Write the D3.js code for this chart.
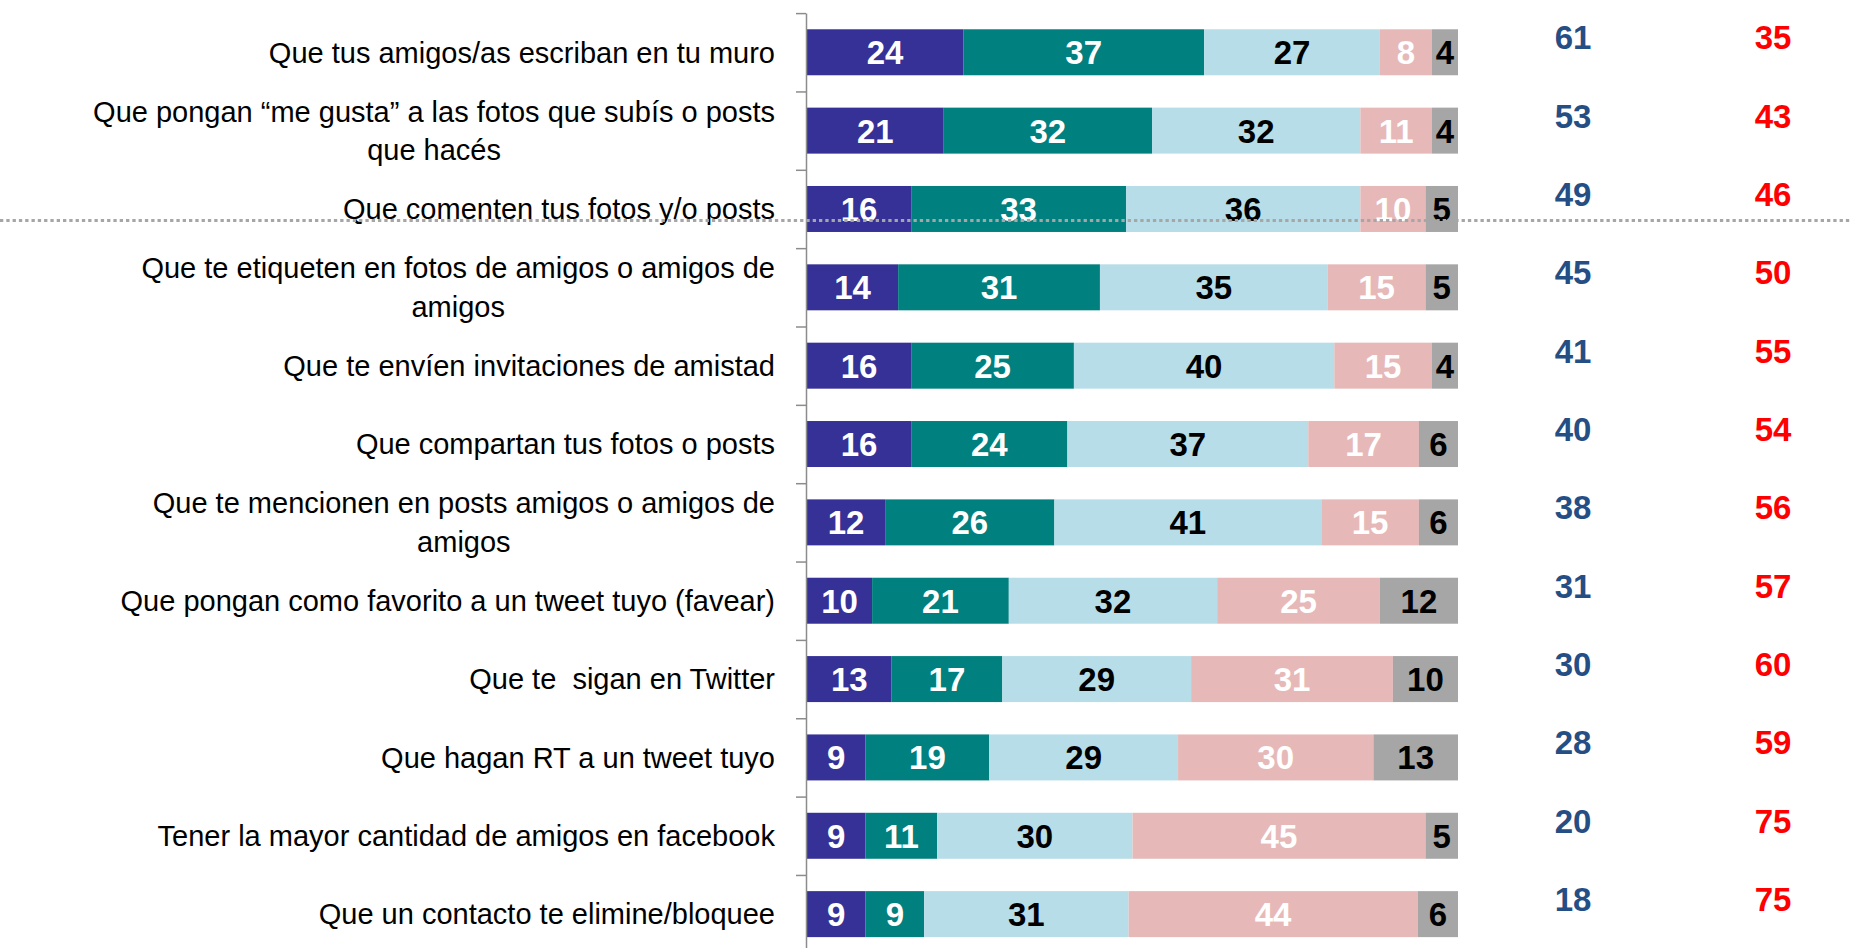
<!DOCTYPE html>
<meta charset="utf-8">
<script src="https://cdn.jsdelivr.net/npm/d3@7"></script>
<style>
body { margin: 0; background: #fff; }
text.cat { font: 29px "Liberation Sans", Arial, sans-serif; fill: #000; white-space: pre; }
text.val { font: bold 33px "Liberation Sans", Arial, sans-serif; text-anchor: middle; }
text.side { font: bold 33px "Liberation Sans", Arial, sans-serif; text-anchor: middle; }
.axis path, .axis line { stroke: #8c8c8c; stroke-width: 1.5px; }
</style>
<body>
<script>

// categories (multi-line labels split with |)
var categories = [
  "Que tus amigos/as escriban en tu muro",
  "Que pongan “me gusta” a las fotos que subís o posts|que hacés",
  "Que comenten tus fotos y/o posts",
  "Que te etiqueten en fotos de amigos o amigos de|amigos",
  "Que te envíen invitaciones de amistad",
  "Que compartan tus fotos o posts",
  "Que te mencionen en posts amigos o amigos de|amigos",
  "Que pongan como favorito a un tweet tuyo (favear)",
  "Que te  sigan en Twitter",
  "Que hagan RT a un tweet tuyo",
  "Tener la mayor cantidad de amigos en facebook",
  "Que un contacto te elimine/bloquee"
];

// stacked segments, left to right
var s1 = [24, 21, 16, 14, 16, 16, 12, 10, 13, 9, 9, 9];
var s2 = [37, 32, 33, 31, 25, 24, 26, 21, 17, 19, 11, 9];
var s3 = [27, 32, 36, 35, 40, 37, 41, 32, 29, 29, 30, 31.4];
var s4 = [8, 11, 10, 15, 15, 17, 15, 25, 31, 30, 45, 44.4];
var s5 = [4, 4, 5, 5, 4, 6, 6, 12, 10, 13, 5, 6.2];

// totals on the right
var totalPos = [61, 53, 49, 45, 41, 40, 38, 31, 30, 28, 20, 18];
var totalNeg = [35, 43, 46, 50, 55, 54, 56, 57, 60, 59, 75, 75];

var colors = ["#363197", "#00807f", "#b7dde8", "#e6b9b8", "#a6a6a6"];
var textColors = ["#fff", "#fff", "#000", "#fff", "#000"];

var width = 1850, height = 948;

var svg = d3.select("body").append("svg")
    .attr("width", width)
    .attr("height", height);

var top0 = 13.1, step = 78.35;

var x = d3.scaleLinear().domain([0, 100]).range([807, 1458]);
var y = d3.scaleBand()
    .domain(categories)
    .range([top0, top0 + step * categories.length])
    .paddingInner(0.413)
    .paddingOuter(0.2065);

var rows = categories.map(function(c, i) {
  return {cat: c, s0: s1[i], s1: s2[i], s2: s3[i], s3: s4[i], s4: s5[i]};
});
var stack = d3.stack().keys(["s0", "s1", "s2", "s3", "s4"]);
var series = stack(rows);

// bars
var layer = svg.append("g")
    .selectAll("g")
    .data(series)
    .enter().append("g")
    .attr("fill", function(d, i) { return colors[i]; });

layer.selectAll("rect")
    .data(function(d) { return d; })
    .enter().append("rect")
    .attr("x", function(d) { return x(d[0]); })
    .attr("width", function(d) { return x(d[1]) - x(d[0]); })
    .attr("y", function(d) { return y(d.data.cat); })
    .attr("height", y.bandwidth());

// segment labels
series.forEach(function(s, k) {
  svg.append("g").selectAll("text")
      .data(s)
      .enter().append("text")
      .attr("class", "val")
      .attr("fill", textColors[k])
      .attr("x", function(d) { return (x(d[0]) + x(d[1])) / 2; })
      .attr("y", function(d) { return y(d.data.cat) + y.bandwidth() / 2 + 12; })
      .text(function(d) { return Math.round(d[1] - d[0]); });
});

// axis with ticks at band edges
var yTicks = d3.scaleLinear().domain([0, categories.length]).range([top0, top0 + step * categories.length]);
svg.append("g")
    .attr("class", "axis")
    .attr("transform", "translate(806,0)")
    .call(d3.axisLeft(yTicks).ticks(categories.length).tickSize(10).tickSizeOuter(0).tickFormat(""));

// category labels
var labelRight = 775;
categories.forEach(function(c) {
  var lines = c.split("|");
  var cy = y(c) + y.bandwidth() / 2;
  var g = svg.append("g");
  var t = g.selectAll("text")
      .data(lines)
      .enter().append("text")
      .attr("class", "cat")
      .attr("y", function(d, i) { return cy + 10.3 + (i - (lines.length - 1) / 2) * 38.7; })
      .text(function(d) { return d; });
  var maxW = 0;
  t.each(function() { maxW = Math.max(maxW, this.getComputedTextLength()); });
  t.attr("text-anchor", "middle").attr("x", labelRight - maxW / 2);
});

// totals
svg.append("g").selectAll("text")
    .data(totalPos)
    .enter().append("text")
    .attr("class", "side")
    .attr("fill", "#254e85")
    .attr("x", 1573)
    .attr("y", function(d, i) { return y(categories[i]) + y.bandwidth() / 2 - 3; })
    .text(function(d) { return d; });

svg.append("g").selectAll("text")
    .data(totalNeg)
    .enter().append("text")
    .attr("class", "side")
    .attr("fill", "#ff0000")
    .attr("x", 1773)
    .attr("y", function(d, i) { return y(categories[i]) + y.bandwidth() / 2 - 3; })
    .text(function(d) { return d; });

// dotted separator
svg.append("line")
    .attr("x1", 0).attr("x2", width)
    .attr("y1", 220.5).attr("y2", 220.5)
    .attr("stroke", "#a6a6a6")
    .attr("stroke-width", 3)
    .attr("stroke-dasharray", "3.3,3");

</script>
</body>
